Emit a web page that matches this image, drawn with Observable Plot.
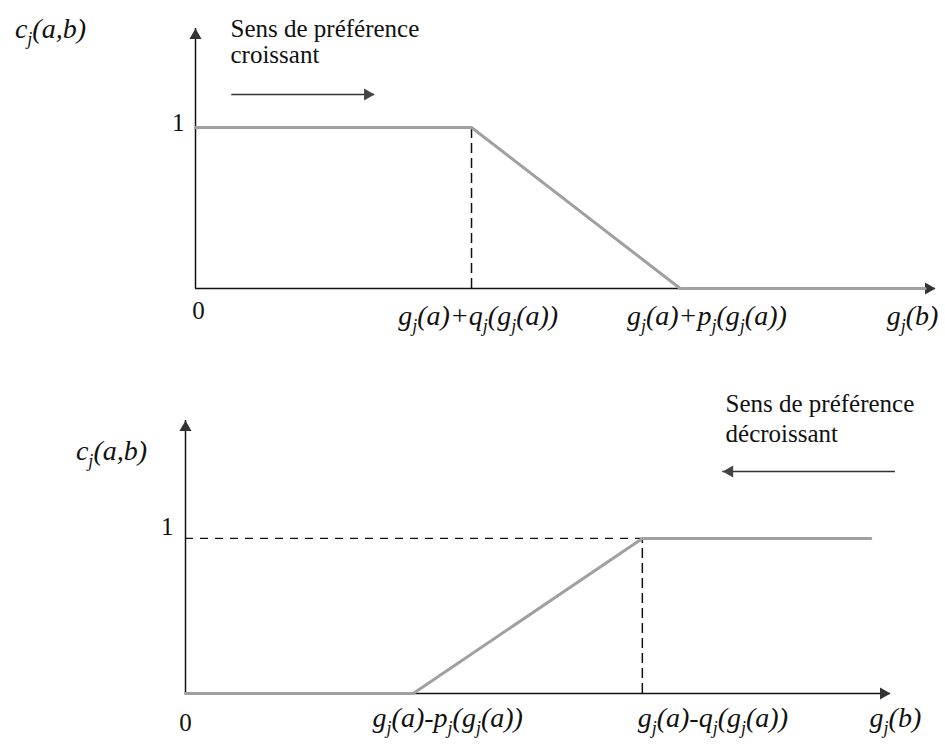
<!DOCTYPE html>
<html>
<head>
<meta charset="utf-8">
<script src="https://cdn.jsdelivr.net/npm/d3@7"></script>
<script src="https://cdn.jsdelivr.net/npm/@observablehq/plot@0.6"></script>
<style>
  html, body { margin: 0; padding: 0; background: #ffffff; }
  #chart svg { display: block; }
  #chart svg text { font-family: "Liberation Serif", "Times New Roman", serif !important; }
</style>
</head>
<body>
<div id="chart"></div>
<script>
// ---------- Data (abstract units: x in 0..100 along g_j(b), y = c_j(a,b)) ----------
const xMax = 100;

// Top panel: increasing preference direction
const topX = [0, 37.3, 65.5, 98.6];
const topY = [1, 1, 0, 0];
const topYMax = 1.615;
const topQ = 37.3;            // g_j(a)+q_j(g_j(a))
const topTickLabels = ["g_j(a)+q_j(g_j(a))", "g_j(a)+p_j(g_j(a))", "g_j(b)"];
const topTickX = [38.2, 69.1, 96.9];
const topDirLines = ["Sens de préférence", "croissant"];
const topDirX = 4.73;
const topDirY = [1.615, 1.453];
const topArrowX = [4.9, 24.2];
const topArrowY = 1.205;
const topYLabel = {text: "c_j(a,b)", x: -19.6, y: 1.609};

// Bottom panel: decreasing preference direction
const botX = [0, 32.3, 64.8, 97.2];
const botY = [0, 0, 1, 1];
const botYMax = 1.761;
const botQ = 64.8;            // g_j(a)-q_j(g_j(a))
const botTickLabels = ["g_j(a)-p_j(g_j(a))", "g_j(a)-q_j(g_j(a))", "g_j(b)"];
const botTickX = [37.2, 74.8, 100.7];
const botDirLines = ["Sens de préférence", "décroissant"];
const botDirX = 76.6;
const botDirY = [1.865, 1.671];
const botArrowX = [100.7, 76.2];
const botArrowY = 1.432;
const botYLabel = {text: "c_j(a,b)", x: -10.5, y: 1.561};

// ---------- Styles ----------
const GREY = "#a0a0a0";
const AXIS = "#111111";
const R = 4.5;                 // triangle head size
const OFF = 1.555 * R;         // centroid-to-tip distance of d3 triangle
const MATH = 28;               // italic math label size
const SUB = 18;                // subscript size

function toRows(xs, ys) { return xs.map((x, i) => ({x, y: ys[i]})); }

function panel(cfg) {
  const curve = toRows(cfg.xs, cfg.ys);
  return Plot.plot({
    width: 945,
    height: cfg.height,
    marginLeft: cfg.ml, marginRight: cfg.mr, marginTop: cfg.mt, marginBottom: cfg.mb,
    x: {domain: [0, xMax], axis: null},
    y: {domain: [0, cfg.yMax], axis: null},
    style: {background: "#ffffff", overflow: "visible"},
    marks: [
      // axes
      Plot.ruleY([0], {x1: 0, x2: xMax, stroke: AXIS, strokeWidth: 1.5}),
      Plot.ruleX([0], {y1: 0, y2: cfg.yMax, stroke: AXIS, strokeWidth: 1.5}),
      Plot.dot([{x: xMax, y: 0}], {x: "x", y: "y", symbol: "triangle", r: R, rotate: 90, dx: -OFF, fill: "#333", stroke: "none"}),
      Plot.dot([{x: 0, y: cfg.yMax}], {x: "x", y: "y", symbol: "triangle", r: R, dy: OFF, fill: "#333", stroke: "none"}),
      // dashed guides
      ...cfg.dashed,
      // function
      Plot.line(curve, {x: "x", y: "y", stroke: GREY, strokeWidth: 3}),
      // direction arrow
      Plot.ruleY([cfg.arrowY], {x1: cfg.arrowX[0], x2: cfg.arrowX[1], stroke: "#333", strokeWidth: 1.5}),
      Plot.dot([{x: cfg.arrowX[1], y: cfg.arrowY}], {x: "x", y: "y", symbol: "triangle", r: R,
        rotate: cfg.arrowX[1] > cfg.arrowX[0] ? 90 : -90,
        dx: cfg.arrowX[1] > cfg.arrowX[0] ? -OFF : OFF, fill: "#444", stroke: "none"}),
      // direction text
      Plot.text(cfg.dirLines, {x: () => cfg.dirX, y: (d, i) => cfg.dirY[i], text: d => d,
        textAnchor: "start", fontSize: 25, fill: "#111"}),
      // y label
      Plot.text([cfg.yLabel], {x: "x", y: "y", text: "text", fontSize: MATH, fontStyle: "italic", fill: "#111"}),
      // tick labels "0" and "1"
      Plot.text(["0"], {x: () => 0, y: () => 0, text: d => d, dx: cfg.zeroDx, dy: cfg.zeroDy, fontSize: 25, fill: "#111"}),
      Plot.text(["1"], {x: () => 0, y: () => 1, text: d => d, dx: cfg.oneDx, dy: cfg.oneDy, textAnchor: "end", fontSize: 25, fill: "#111"}),
      // x labels
      Plot.text(cfg.tickLabels, {x: (d, i) => cfg.tickX[i], y: () => 0, text: d => d, dy: cfg.labelDy,
        fontSize: MATH, fontStyle: "italic", fill: "#111"})
    ]
  });
}

const topChart = panel({
  height: 370, ml: 195, mr: 10, mt: 28, mb: 82,
  xs: topX, ys: topY, yMax: topYMax,
  dashed: [Plot.ruleX([topQ], {y1: 0, y2: 1, stroke: AXIS, strokeWidth: 1.5, strokeDasharray: "10,5"})],
  arrowX: topArrowX, arrowY: topArrowY,
  dirLines: topDirLines, dirX: topDirX, dirY: topDirY,
  yLabel: topYLabel,
  zeroDx: 3, zeroDy: 22, oneDx: -11, oneDy: -5,
  tickLabels: topTickLabels, tickX: topTickX, labelDy: 28
});

const botChart = panel({
  height: 376, ml: 185, mr: 55, mt: 50, mb: 53,
  xs: botX, ys: botY, yMax: botYMax,
  dashed: [
    Plot.ruleX([botQ], {y1: 0, y2: 1, stroke: AXIS, strokeWidth: 1.5, strokeDasharray: "10,5"}),
    Plot.ruleY([1], {x1: 0, x2: botQ, stroke: AXIS, strokeWidth: 1.2, strokeDasharray: "8,7"})
  ],
  arrowX: botArrowX, arrowY: botArrowY,
  dirLines: botDirLines, dirX: botDirX, dirY: botDirY,
  yLabel: botYLabel,
  zeroDx: 0, zeroDy: 29, oneDx: -12, oneDy: -11,
  tickLabels: botTickLabels, tickX: botTickX, labelDy: 25
});

// Render subscripts written as "_j" with real tspans
function subscriptify(svg) {
  d3.select(svg).selectAll("text").each(function() {
    const el = this;
    const s = el.textContent;
    if (!s.includes("_")) return;
    const parts = s.split(/_(\w)/);
    while (el.firstChild) el.removeChild(el.firstChild);
    let shifted = false;
    parts.forEach((p, i) => {
      if (p === "") return;
      const t = document.createElementNS("http://www.w3.org/2000/svg", "tspan");
      t.textContent = p;
      if (i % 2 === 1) {
        t.setAttribute("font-size", String(SUB));
        t.setAttribute("dy", "7");
        shifted = true;
      } else if (shifted) {
        t.setAttribute("dy", "-7");
        shifted = false;
      }
      el.appendChild(t);
    });
  });
}
subscriptify(topChart);
subscriptify(botChart);

document.getElementById("chart").append(topChart, botChart);
</script>
</body>
</html>
